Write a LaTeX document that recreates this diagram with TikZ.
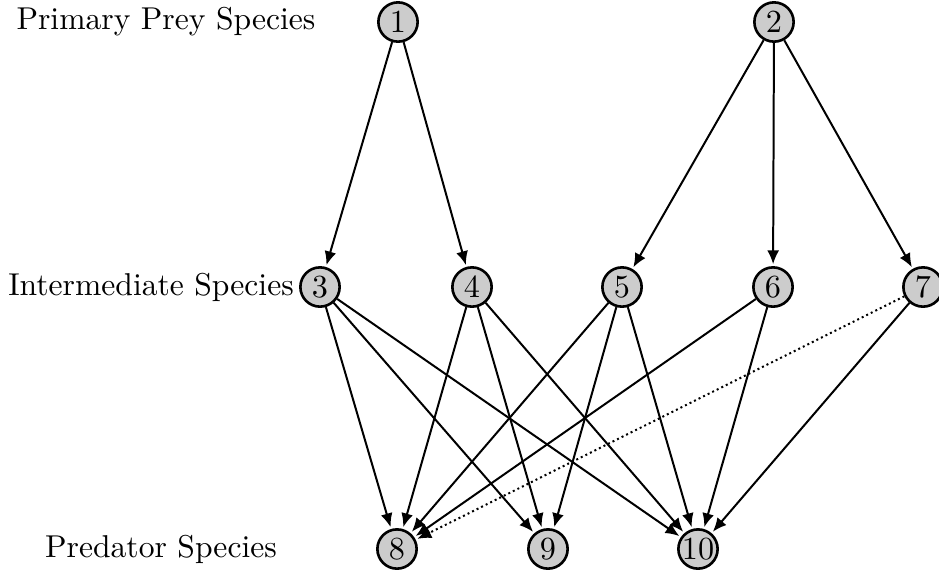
\documentclass[tikz,border=0pt]{standalone}
\usetikzlibrary{arrows.meta}
\begin{document}
\begin{tikzpicture}[x=0.326pt,y=-0.326pt,
  species/.style={circle,draw=black,line width=0.85pt,fill=black!20,
    minimum size=12.8pt,inner sep=0pt,font=\fontsize{10.5}{12}\selectfont},
  level/.style={font=\fontsize{10.3}{12}\selectfont,inner sep=0pt},
  feeds/.style={line width=0.65pt,-{Latex[length=4.5pt,width=3.9pt]},shorten >=0.6pt},
  weak/.style={feeds,densely dotted}]
\useasboundingbox (0,0) rectangle (939,576);
% trophic level labels
\node[level] (lp) at (166,22) {Primary Prey Species};
\node[level] (li) at (151,287) {Intermediate Species};
\node[level] (lt) at (161,549) {Predator Species};
% species
\node[species] (n1) at (398,22) {1};
\node[species] (n2) at (774,22) {2};
\node[species] (n3) at (320,287) {3};
\node[species] (n4) at (472,287) {4};
\node[species] (n5) at (622,287) {5};
\node[species] (n6) at (773,287) {6};
\node[species] (n7) at (923,287) {7};
\node[species] (n8) at (397,549) {8};
\node[species] (n9) at (548,549) {9};
\node[species] (n10) at (698,549) {10};
% feeding links
\foreach \a/\b in {n1/n3,n1/n4,n2/n5,n2/n6,n2/n7,
  n3/n8,n3/n9,n3/n10,n4/n8,n4/n9,n4/n10,n5/n8,n5/n9,n5/n10,
  n6/n8,n6/n10,n7/n10}
  \draw[feeds] (\a) -- (\b);
\draw[weak] (n7) -- (n8);
\end{tikzpicture}
\end{document}
